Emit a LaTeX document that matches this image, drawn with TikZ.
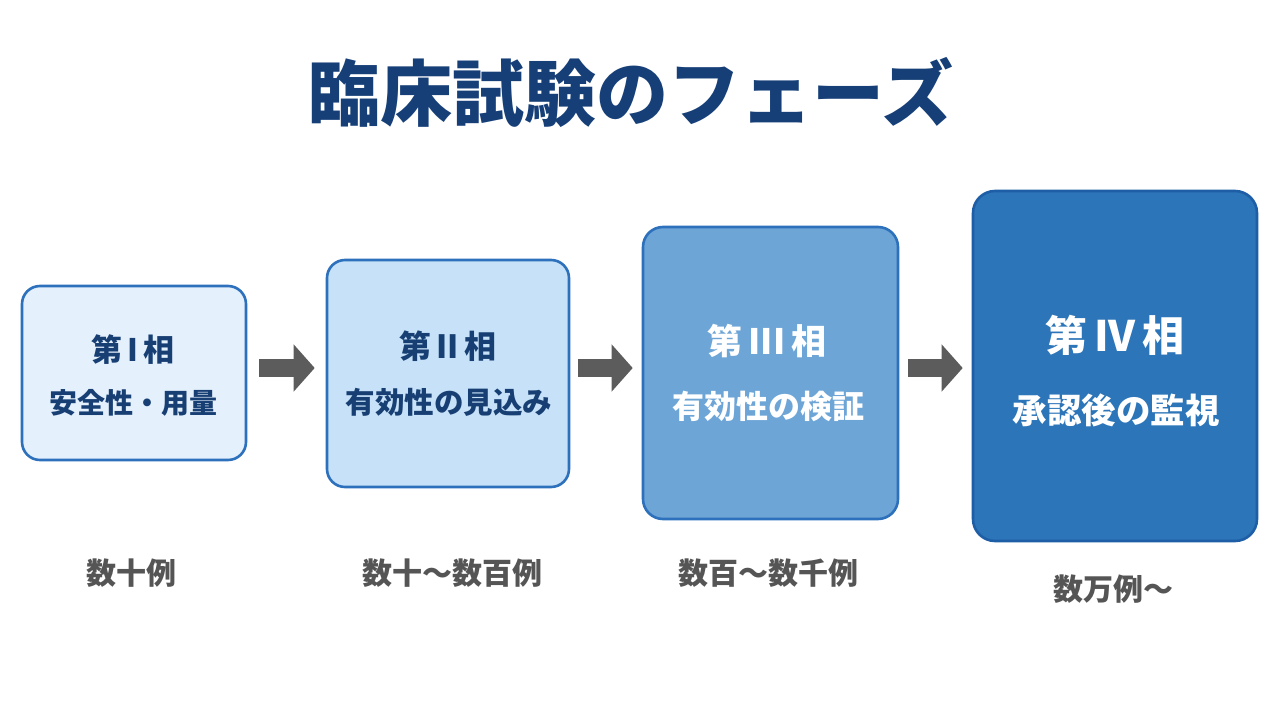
\documentclass[tikz,border=0pt]{standalone}
\usepackage{fontspec}
\setmainfont{Noto Sans CJK JP}
\usetikzlibrary{arrows.meta}
\definecolor{titlec}{HTML}{163F78}
\definecolor{navy}{HTML}{173F73}
\definecolor{graytxt}{HTML}{555555}
\definecolor{arrowc}{HTML}{5C5C5C}
\definecolor{f1}{HTML}{E4F0FC}
\definecolor{f2}{HTML}{C6E1F8}
\definecolor{f3}{HTML}{6EA5D7}
\definecolor{f4}{HTML}{2C75B8}
\definecolor{d1}{HTML}{2D70BC}
\definecolor{d4}{HTML}{1E5EA6}
\newcommand{\fs}[1]{\fontsize{#1}{#1}\selectfont}
\tikzset{
  phase/.style={rectangle, rounded corners=18pt, line width=2.6pt, inner sep=0pt},
  txt/.style={inner sep=0pt, font=\bfseries},
  bigarrow/.style={draw=arrowc, line width=18pt, -{Triangle[width=46pt,length=21pt]}},
}
\begin{document}
\begin{tikzpicture}[x=1pt,y=-1pt]
\useasboundingbox[fill=white] (0,0) rectangle (1280,720);
% title
\node[txt, text=titlec] (title) at (631,92) {\fs{72}臨床試験のフェーズ};
% boxes
\node[phase, fill=f1, draw=d1, minimum width=224pt, minimum height=174pt] (b1) at (134,373) {};
\node[phase, fill=f2, draw=d1, minimum width=242pt, minimum height=227pt] (b2) at (448,373.5) {};
\node[phase, fill=f3, draw=d1, minimum width=255pt, minimum height=292pt, rounded corners=20pt] (b3) at (770.5,373) {};
\node[phase, fill=f4, draw=d4, minimum width=284pt, minimum height=350pt, rounded corners=22pt] (b4) at (1115,366) {};
% box texts
\node[txt, text=navy] (t1a) at (133,350) {\fs{31}第\,I\,相};
\node[txt, text=navy] (t1b) at (133,403) {\fs{28}安全性・用量};
\node[txt, text=navy] (t2a) at (448,346) {\fs{32}第\,II\,相};
\node[txt, text=navy] (t2b) at (449,402) {\fs{29.5}有効性の見込み};
\node[txt, text=white] (t3a) at (767,341) {\fs{35}第\,III\,相};
\node[txt, text=white] (t3b) at (768,406) {\fs{32}有効性の検証};
\node[txt, text=white] (t4a) at (1115,335) {\fs{42}第\,IV\,相};
\node[txt, text=white] (t4b) at (1116,410) {\fs{34.5}承認後の監視};
% counts
\node[txt, text=graytxt] (c1) at (131,573) {\fs{30}数十例};
\node[txt, text=graytxt] (c2) at (452,573) {\fs{30}数十〜数百例};
\node[txt, text=graytxt] (c3) at (768,573) {\fs{30}数百〜数千例};
\node[txt, text=graytxt] (c4) at (1113,589) {\fs{30}数万例〜};
% arrows
\coordinate (ay) at (0,368);
\draw[bigarrow] ([xshift=12pt]b1.east |- ay) -- ([xshift=-11pt]b2.west |- ay);
\draw[bigarrow] ([xshift=8pt]b2.east |- ay) -- ([xshift=-9pt]b3.west |- ay);
\draw[bigarrow] ([xshift=9pt]b3.east |- ay) -- ([xshift=-9pt]b4.west |- ay);
\end{tikzpicture}
\end{document}
